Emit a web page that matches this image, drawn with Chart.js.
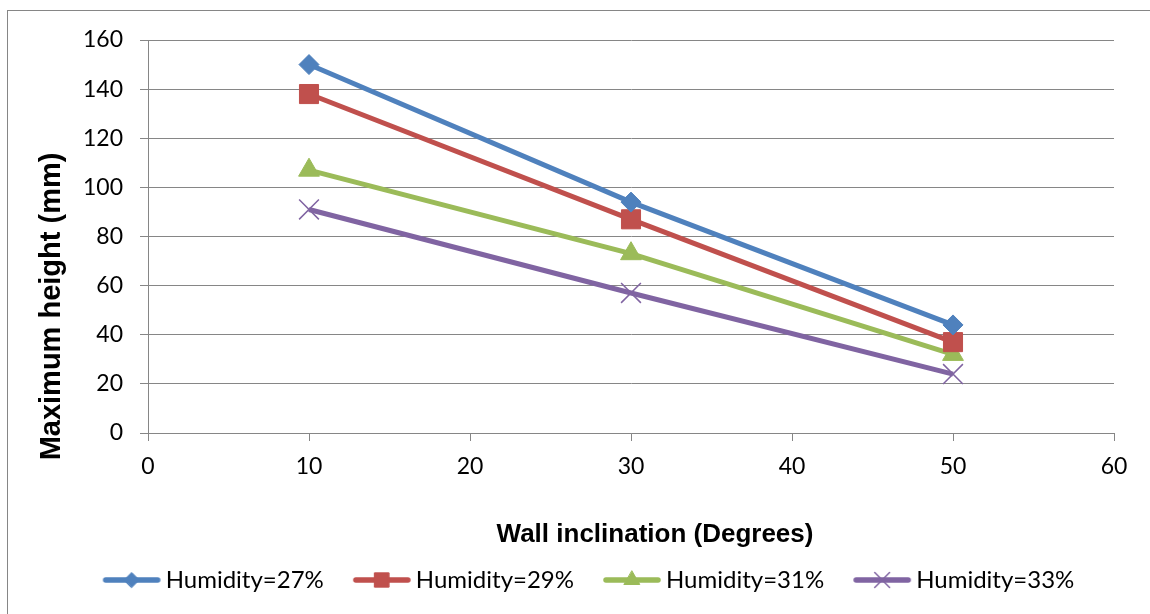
<!DOCTYPE html>
<html>
<head>
<meta charset="utf-8">
<script src="https://cdn.jsdelivr.net/npm/chart.js@4.4.0/dist/chart.umd.min.js"></script>
<style>
  html, body { margin: 0; padding: 0; background: #fff; }
</style>
</head>
<body>
<canvas id="chart" width="1150" height="614"></canvas>
<script>
// values
const inclination = [10, 30, 50];
const seriesNames = ['Humidity=27%', 'Humidity=29%', 'Humidity=31%', 'Humidity=33%'];
const humidity27 = [150, 94, 44];
const humidity29 = [138, 87, 37];
const humidity31 = [107, 73, 32];
const humidity33 = [91, 57, 24];
const xTitle = 'Wall inclination (Degrees)';
const yTitle = 'Maximum height (mm)';

const colors = ['#4F81BD', '#C0504D', '#9BBB59', '#8064A2'];
const markers = ['rectRot', 'rect', 'triangle', 'crossRot'];
const markerSize = [10, 13.5, 12, 14];
const values = [humidity27, humidity29, humidity31, humidity33];

const gray = '#868686';
const tickFont = { family: 'Lato', size: 23 };

// legend icon: line with the marker in the middle
function legendIcon(i) {
    const c = document.createElement('canvas');
    c.width = 60; c.height = 22;
    const ctx = c.getContext('2d');
    ctx.strokeStyle = colors[i];
    ctx.lineWidth = 5.5;
    ctx.lineCap = 'round';
    ctx.beginPath(); ctx.moveTo(4, 11); ctx.lineTo(56, 11); ctx.stroke();
    ctx.fillStyle = colors[i];
    ctx.lineWidth = i === 3 ? 1.5 : 1;
    Chart.helpers.drawPoint(ctx, {
        pointStyle: markers[i], radius: markerSize[i] * 0.75,
        borderWidth: i === 3 ? 1.5 : 1
    }, 30, 11);
    return c;
}

const datasets = values.map((vals, i) => ({
    label: seriesNames[i],
    data: vals.map((v, k) => ({ x: inclination[k], y: v })),
    borderColor: colors[i],
    backgroundColor: colors[i],
    borderWidth: 5,
    pointStyle: markers[i],
    pointRadius: markerSize[i],
    pointBorderWidth: i === 3 ? 1.5 : 1,
    pointBorderColor: colors[i],
    pointBackgroundColor: colors[i]
}));

const frame = {
    id: 'frame',
    beforeDraw(chart) {
        const ctx = chart.ctx;
        ctx.save();
        ctx.fillStyle = '#fff';
        ctx.fillRect(0, 0, chart.width, chart.height);
        ctx.strokeStyle = gray;
        ctx.lineWidth = 1;
        ctx.strokeRect(7.5, 10.5, 3000, 3000);
        ctx.restore();
    }
};

// axis titles sit off-centre in the original, so they are drawn here
const axisTitles = {
    id: 'axisTitles',
    afterDraw(chart) {
        const a = chart.chartArea;
        const ctx = chart.ctx;
        ctx.save();
        ctx.fillStyle = '#000';
        ctx.textAlign = 'center';
        ctx.textBaseline = 'alphabetic';
        ctx.font = 'bold 26px "Liberation Sans"';
        ctx.fillText(xTitle, (a.left + a.right) / 2 + 24, a.bottom + 109);
        ctx.translate(a.left - 88, (a.top + a.bottom) / 2 + 70);
        ctx.rotate(-Math.PI / 2);
        ctx.font = 'bold 29px "Liberation Sans"';
        ctx.fillText(yTitle, 0, 0);
        ctx.restore();
    }
};

new Chart(document.getElementById('chart'), {
    type: 'line',
    data: { datasets: datasets },
    plugins: [frame, axisTitles],
    options: {
        responsive: false,
        animation: false,
        layout: { padding: { left: 70, top: 40, right: 36, bottom: 12 } },
        scales: {
            x: {
                type: 'linear', min: 0, max: 60,
                ticks: { stepSize: 10, color: '#000', font: tickFont, padding: 12 },
                grid: { drawOnChartArea: false, drawTicks: true, tickLength: 8, color: gray },
                border: { color: gray },
                afterFit(s) { s.height = 99; }
            },
            y: {
                min: 0, max: 160,
                ticks: { stepSize: 20, color: '#000', font: tickFont, padding: 17 },
                grid: { color: gray, tickLength: 8 },
                border: { color: gray },
                afterFit(s) { s.width = 78; }
            }
        },
        plugins: {
            tooltip: { enabled: false },
            legend: {
                position: 'bottom',
                labels: {
                    color: '#000',
                    font: { family: 'Lato', size: 24 },
                    usePointStyle: true,
                    pointStyleWidth: 44,
                    padding: 36,
                    generateLabels: () => seriesNames.map((t, i) => ({
                        text: t, pointStyle: legendIcon(i), datasetIndex: i,
                        fillStyle: colors[i], strokeStyle: colors[i], lineWidth: 0
                    }))
                }
            }
        }
    }
});
</script>
</body>
</html>
